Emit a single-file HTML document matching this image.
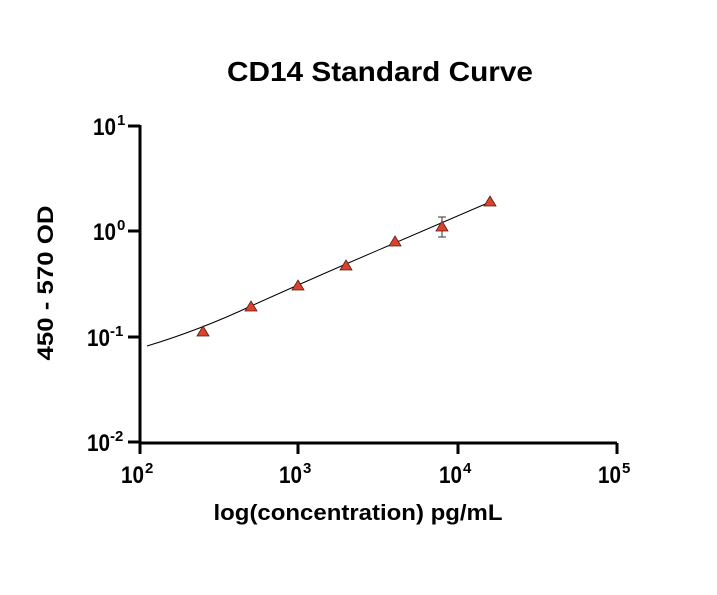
<!DOCTYPE html>
<html><head><style>body{margin:0;background:#fff}</style></head><body>
<svg width="717" height="590" xmlns="http://www.w3.org/2000/svg" font-family="Liberation Sans, sans-serif" font-weight="bold">
<text x="380" y="81" font-size="28" text-anchor="middle" textLength="306" lengthAdjust="spacingAndGlyphs">CD14 Standard Curve</text>
<g stroke="#000" stroke-width="3" fill="none">
<path d="M140 125 V443 H617"/>
<path d="M128 126 H140 M128 231 H140 M128 337 H140 M128 442 H140"/>
<path d="M140 443 V454 M298 443 V454 M458 443 V454 M617 443 V454"/>
</g>
<g font-size="24">
<text x="93" y="135" textLength="23" lengthAdjust="spacingAndGlyphs">10</text><text x="117" y="125" font-size="15">1</text>
<text x="93" y="240" textLength="23" lengthAdjust="spacingAndGlyphs">10</text><text x="117" y="230" font-size="15">0</text>
<text x="87" y="346" textLength="23" lengthAdjust="spacingAndGlyphs">10</text><text x="110" y="336" font-size="15">-1</text>
<text x="87" y="451" textLength="23" lengthAdjust="spacingAndGlyphs">10</text><text x="110" y="441" font-size="15">-2</text>
</g>
<g font-size="24">
<text x="121" y="483" textLength="23" lengthAdjust="spacingAndGlyphs">10</text><text x="145" y="473" font-size="15">2</text>
<text x="279" y="483" textLength="23" lengthAdjust="spacingAndGlyphs">10</text><text x="303" y="473" font-size="15">3</text>
<text x="439" y="483" textLength="23" lengthAdjust="spacingAndGlyphs">10</text><text x="463" y="473" font-size="15">4</text>
<text x="598" y="483" textLength="23" lengthAdjust="spacingAndGlyphs">10</text><text x="622" y="473" font-size="15">5</text>
</g>
<text x="358" y="520" font-size="22" text-anchor="middle" textLength="289" lengthAdjust="spacingAndGlyphs">log(concentration) pg/mL</text>
<text transform="translate(53,283) rotate(-90)" font-size="22" text-anchor="middle" textLength="155" lengthAdjust="spacingAndGlyphs">450 - 570 OD</text>
<path d="M147 346 Q200 330 251 306 Q300 284 346 264 Q420 232 490 202" stroke="#000" stroke-width="1" fill="none"/>
<path d="M442 217 V237 M438 217 H446 M438 237 H446" stroke="#333" stroke-width="1" fill="none"/>
<g fill="#d9432c" stroke="#5a1a10" stroke-width="0.8">
<path d="M203 326 l6 10 h-12z"/>
<path d="M251 301 l6 10 h-12z"/>
<path d="M298 280 l6 10 h-12z"/>
<path d="M346 260 l6 10 h-12z"/>
<path d="M395 236 l6 10 h-12z"/>
<path d="M442 221 l6 10 h-12z"/>
<path d="M490 196 l6 10 h-12z"/>
</g>
</svg>
</body></html>
